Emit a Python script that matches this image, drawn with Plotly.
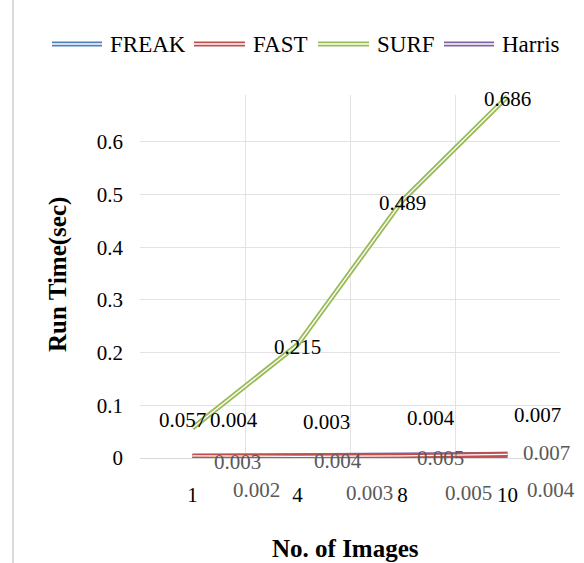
import plotly.graph_objects as go

# ---- data ----
categories = ["1", "4", "8", "10"]
series_names = ["FREAK", "FAST", "SURF", "Harris"]
freak = [0.002, 0.003, 0.005, 0.004]
fast = [0.004, 0.003, 0.004, 0.007]
surf = [0.057, 0.215, 0.489, 0.686]
harris = [0.003, 0.004, 0.005, 0.007]
y_ticks = [0, 0.1, 0.2, 0.3, 0.4, 0.5, 0.6]

# ---- style ----
colors = {"FREAK": "#4F81BD", "FAST": "#C0504D", "SURF": "#9BBB59", "Harris": "#8064A2"}
FONT = "Liberation Serif, Times New Roman, serif"
values = {"FREAK": freak, "FAST": fast, "SURF": surf, "Harris": harris}
draw_order = ["FREAK", "Harris", "FAST", "SURF"]
# label offsets (px) per series, per point, and label colour
label_offsets = {
    "SURF": [(-10, 8), (0, -2), (0, -3), (0, -2)],
    "FAST": [(41, 36), (29, 34), (28, 38), (30, 39)],
    "Harris": [(45, -6), (40, -5), (38, -3), (39, 1)],
    "FREAK": [(64, -33), (72, -37), (66, -38), (43, -34)],
}
label_colors = {"SURF": "#000000", "FAST": "#000000", "Harris": "#595959", "FREAK": "#595959"}

L, R, T, B = 140, 24, 95, 105
W, H = 584, 563
PW, PH = W - L - R, H - T - B

xs = list(range(len(categories)))
fig = go.Figure()
for name in draw_order:
    fig.add_trace(go.Scatter(x=xs, y=values[name], mode="lines",
                             line=dict(color=colors[name], width=5),
                             showlegend=False, hoverinfo="skip"))
    fig.add_trace(go.Scatter(x=xs, y=values[name], mode="lines",
                             line=dict(color="white", width=1.3),
                             showlegend=False, hoverinfo="skip"))

annotations = []
for name in series_names:
    for i, v in enumerate(values[name]):
        dx, dy = label_offsets[name][i]
        annotations.append(dict(x=xs[i], y=v, xref="x", yref="y", text=f"{v:g}",
                                showarrow=False, xshift=dx, yshift=dy,
                                xanchor="center", yanchor="middle",
                                font=dict(family=FONT, size=21, color=label_colors[name])))

def px2paper(px, py):
    return (px - L) / PW, (H - B - py) / PH

# axis titles
ax, ay = px2paper(58, 275)
annotations.append(dict(x=ax, y=ay, xref="paper", yref="paper", text="<b>Run Time(sec)</b>",
                        textangle=-90, showarrow=False, xanchor="center", yanchor="middle",
                        font=dict(family=FONT, size=25, color="#000000")))
bx, by = px2paper(345, 548)
annotations.append(dict(x=bx, y=by, xref="paper", yref="paper", text="<b>No. of Images</b>",
                        showarrow=False, xanchor="center", yanchor="middle",
                        font=dict(family=FONT, size=25, color="#000000")))

# manual legend with double lines
shapes = []
legend_items = [("FREAK", 52, 102), ("FAST", 194, 245), ("SURF", 318, 369), ("Harris", 444, 494)]
for name, x0, x1 in legend_items:
    p0 = px2paper(x0, 44)
    p1 = px2paper(x1, 44)
    shapes.append(dict(type="line", xref="paper", yref="paper", x0=p0[0], x1=p1[0], y0=p0[1], y1=p1[1],
                       line=dict(color=colors[name], width=5)))
    shapes.append(dict(type="line", xref="paper", yref="paper", x0=p0[0], x1=p1[0], y0=p0[1], y1=p1[1],
                       line=dict(color="white", width=1.3)))
    tx, ty = px2paper(x1 + 6, 45)
    annotations.append(dict(x=tx, y=ty, xref="paper", yref="paper", text=name,
                            xanchor="left", yanchor="middle",
                            showarrow=False, font=dict(family=FONT, size=23, color="#000000")))

# chart border (left edge visible)
b0 = px2paper(13, 575)
b1 = px2paper(620, -10)
shapes.append(dict(type="rect", xref="paper", yref="paper", x0=b0[0], y0=b0[1], x1=b1[0], y1=b1[1],
                   line=dict(color="#D9D9D9", width=2), layer="below"))

fig.update_layout(
    width=W, height=H,
    margin=dict(l=L, r=R, t=T, b=B),
    paper_bgcolor="white", plot_bgcolor="white",
    showlegend=False,
    annotations=annotations,
    shapes=shapes,
    xaxis=dict(range=[-0.5, len(categories) - 0.5], tickmode="array", tickvals=xs, ticktext=categories,
               showgrid=False, zeroline=False, showline=True, linecolor="#D9D9D9", linewidth=1,
               ticks="", ticklabelstandoff=18,
               tickfont=dict(family=FONT, size=21, color="#000000"),
               minor=dict(tick0=-0.5, dtick=1, showgrid=True, gridcolor="#E3E3E3", gridwidth=1)),
    yaxis=dict(range=[0, 0.689], tickmode="array", tickvals=y_ticks, ticktext=[f"{t:g}" for t in y_ticks],
               showgrid=True, gridcolor="#E3E3E3", gridwidth=1, zeroline=False, showline=False,
               ticks="", ticklabelstandoff=16,
               tickfont=dict(family=FONT, size=21, color="#000000")),
)

fig.write_html("out.html")
